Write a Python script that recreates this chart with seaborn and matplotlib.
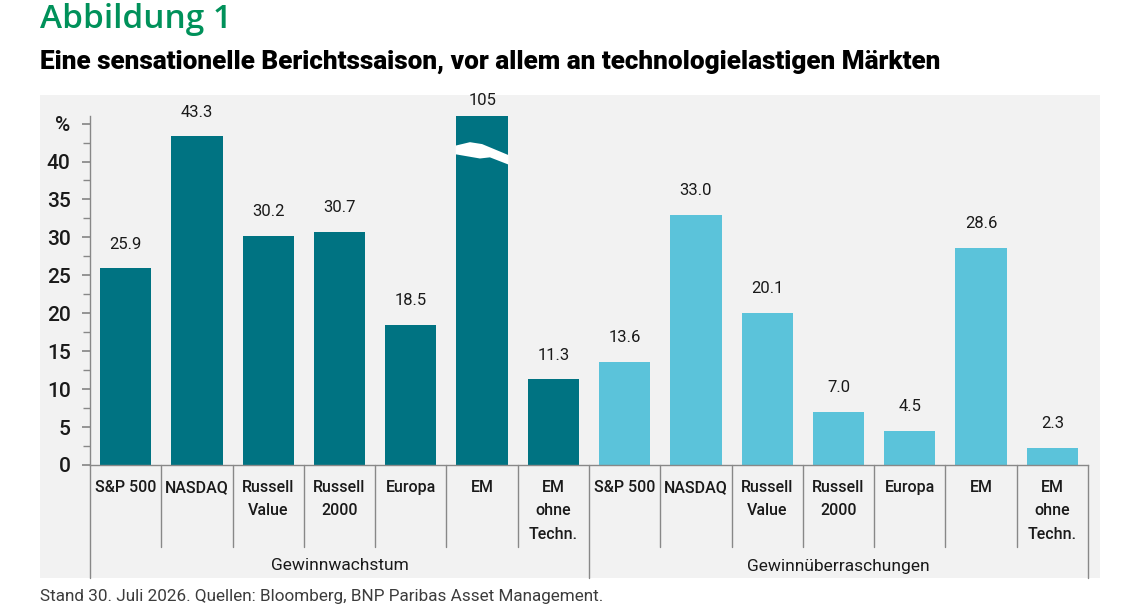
import matplotlib
matplotlib.use("Agg")
import matplotlib.pyplot as plt
import matplotlib.transforms as mtransforms
from matplotlib.patches import Rectangle, Polygon
import seaborn as sns
import pandas as pd
import numpy as np

groups = ["Gewinnwachstum", "Gewinnüberraschungen"]
categories = ["S&P 500", "NASDAQ", "Russell\nValue", "Russell\n2000", "Europa", "EM", "EM\nohne\nTechn."]
growth = [25.9, 43.3, 30.2, 30.7, 18.5, 105.0, 11.3]
surprise = [13.6, 33.0, 20.1, 7.0, 4.5, 28.6, 2.3]
yticks = [0, 5, 10, 15, 20, 25, 30, 35, 40, 45]
yticklabels = ["0", "5", "10", "15", "20", "25", "30", "35", "40", "%"]

colors = {"Gewinnwachstum": "#007382", "Gewinnüberraschungen": "#5bc3da"}
YMAX = 46

rows = []
for g, vals in zip(groups, [growth, surprise]):
    for c, v in zip(categories, vals):
        rows.append({"key": f"{g}|{c}", "label": c, "group": g, "value": v})
df = pd.DataFrame(rows)

sns.set_theme(style="white")
plt.rcParams["font.family"] = ["Roboto", "DejaVu Sans"]

fig = plt.figure(figsize=(11.4, 6.11), dpi=100)
fig.patch.set_facecolor("white")
W, H = 1140, 611
# gray panel
fig.patches.append(Rectangle((40 / W, 1 - 578 / H), (1100 - 40) / W, (578 - 95) / H,
                             transform=fig.transFigure, facecolor="#f2f2f2",
                             edgecolor="none", zorder=-10))

ax = fig.add_axes([90 / W, 1 - 465 / H, (1088 - 90) / W, (465 - 116) / H])
ax.set_facecolor("none")
ax.set_zorder(1)
sns.barplot(data=df, x="key", y="value", hue="group", palette=colors, dodge=False,
            width=0.72, legend=False, ax=ax, saturation=1, linewidth=0)
ax.set_xlim(-0.5, len(df) - 0.5)
ax.set_ylim(0, YMAX)
for s in ["top", "right"]:
    ax.spines[s].set_visible(False)
ax.spines["left"].set_color("#888888")
ax.spines["bottom"].set_color("#888888")
ax.spines["left"].set_linewidth(1)
ax.spines["bottom"].set_linewidth(1)

ax.set_yticks(yticks)
ax.set_yticklabels(yticklabels, fontsize=15, color="#1a1a1a", fontweight="medium")
ax.set_yticks(np.arange(2.5, 46, 5), minor=True)
ax.tick_params(axis="y", which="major", length=6, color="#888888", direction="out", left=True, pad=8)
ax.tick_params(axis="y", which="minor", length=5, color="#888888", direction="out", left=True)

ax.set_xticks(range(len(df)))
ax.set_xticklabels(df["label"], fontsize=11.5, color="#1a1a1a", linespacing=1.68,
                   fontweight="medium")
ax.tick_params(axis="x", length=0, pad=11)
ax.set_xlabel("")
ax.set_ylabel("")

# value labels
for i, (v, g) in enumerate(zip(df["value"], df["group"])):
    if v < YMAX:
        ax.annotate(f"{v:.1f}", (i, v), xytext=(0, 12), textcoords="offset points",
                    ha="center", va="bottom", fontsize=12, color="#1a1a1a")
    else:
        ax.annotate(f"{v:.0f}", (i, YMAX), xytext=(0, 6), textcoords="offset points",
                    ha="center", va="bottom", fontsize=12, color="#1a1a1a",
                    annotation_clip=False)
        # break mark (lightning-shaped gap)
        poly = Polygon([(i - 0.37, 42.1), (i - 0.17, 42.55), (i, 42.3), (i + 0.37, 40.85),
                        (i + 0.37, 39.6), (i + 0.11, 40.55), (i - 0.03, 40.4),
                        (i - 0.37, 40.95)],
                       closed=True, facecolor="white", edgecolor="none", zorder=5)
        ax.add_patch(poly)

# separators
trans = mtransforms.blended_transform_factory(ax.transData, ax.transAxes)
n = len(df)
inner_bottom = -(547 - 465) / (465 - 116)
outer_bottom = -(578 - 465) / (465 - 116)
for b in np.arange(-0.5, n, 1.0):
    outer = b in (-0.5, len(categories) - 0.5, n - 0.5)
    ax.plot([b, b], [0, outer_bottom if outer else inner_bottom], transform=trans,
            color="#888888", lw=1, clip_on=False)

# group labels
for gi, g in enumerate(groups):
    center = gi * len(categories) + (len(categories) - 1) / 2
    ax.text(center, -(566 - 465) / (465 - 116), g, transform=trans, ha="center", va="center",
            fontsize=12.5, color="#1a1a1a")

fig.text(40 / W, 1 - 20 / H, "Abbildung 1", fontsize=24, color="#00915a",
         family=["Open Sans", "DejaVu Sans"], fontweight="semibold", va="center", ha="left")
fig.text(40 / W, 1 - 62 / H, "Eine sensationelle Berichtssaison, vor allem an technologielastigen Märkten",
         fontsize=18.8, color="#000000", fontweight="black", va="center", ha="left")
fig.text(40 / W, 1 - 597 / H, "Stand 30. Juli 2026. Quellen: Bloomberg, BNP Paribas Asset Management.",
         fontsize=12.3, color="#3c3c3c", fontweight="normal", va="center", ha="left")

fig.savefig("out.png", dpi=100)
